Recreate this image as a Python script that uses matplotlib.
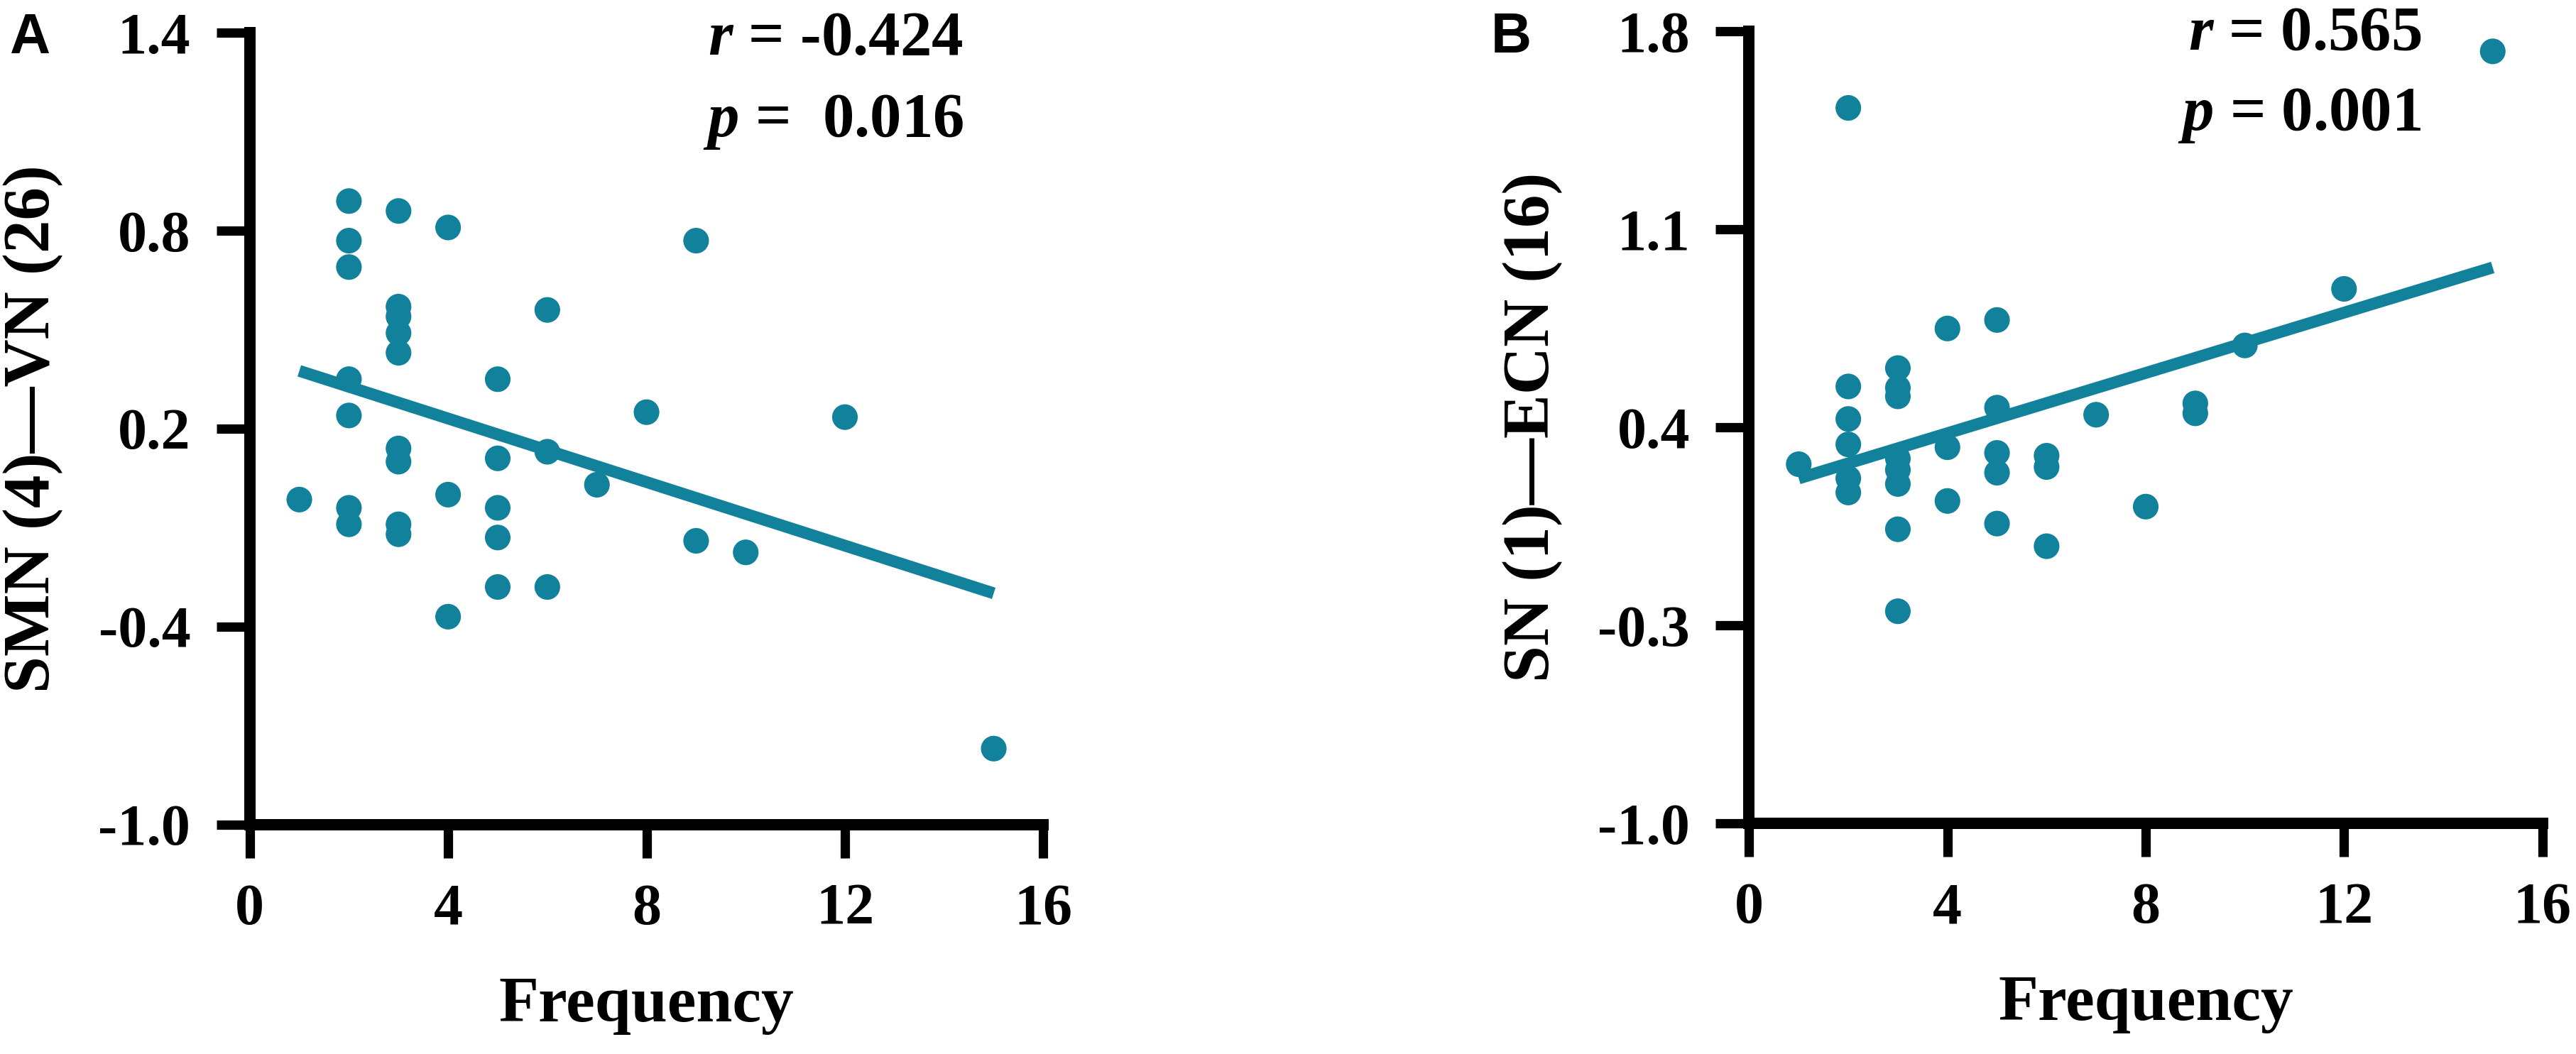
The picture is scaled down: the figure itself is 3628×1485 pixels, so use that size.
import numpy as np
import matplotlib
matplotlib.use('Agg')
import matplotlib.pyplot as plt

plt.rcParams['font.family'] = ['Liberation Serif', 'DejaVu Serif']
plt.rcParams['font.weight'] = 'bold'
plt.rcParams['axes.unicode_minus'] = False
plt.rcParams['mathtext.fontset'] = 'custom'
plt.rcParams['mathtext.it'] = 'Liberation Serif:italic:bold'
plt.rcParams['mathtext.rm'] = 'Liberation Serif:bold'

# panel A: SMN (4)—VN (26)
freq_a = [1,
          2, 2, 2, 2, 2, 2, 2,
          3, 3, 3, 3, 3, 3, 3, 3, 3,
          4, 4, 4,
          5, 5, 5, 5, 5,
          6, 6, 6,
          7, 8, 9, 9, 10, 12, 15]
conn_a = [-0.015,
          0.89, 0.77, 0.69, 0.35, 0.24, -0.04, -0.09,
          0.86, 0.57, 0.54, 0.49, 0.43, 0.14, 0.10, -0.09, -0.12,
          0.81, 0.00, -0.37,
          0.35, 0.11, -0.04, -0.13, -0.28,
          0.56, 0.13, -0.28,
          0.03, 0.25, 0.77, -0.14, -0.175, 0.235, -0.77]

# panel B: SN (1)—ECN (16)
freq_b = [1,
          2, 2, 2, 2, 2, 2,
          3, 3, 3, 3, 3, 3, 3, 3,
          4, 4, 4,
          5, 5, 5, 5, 5,
          6, 6, 6,
          7, 8, 9, 9, 10, 12, 15]
conn_b = [0.27,
          1.53, 0.545, 0.43, 0.34, 0.22, 0.17,
          0.61, 0.54, 0.51, 0.29, 0.25, 0.20, 0.04, -0.25,
          0.75, 0.33, 0.14,
          0.78, 0.47, 0.31, 0.24, 0.06,
          0.30, 0.26, -0.02,
          0.445, 0.12, 0.485, 0.45, 0.69, 0.89, 1.73]

xticks = [0, 4, 8, 12, 16]
yticks_a = [-1.0, -0.4, 0.2, 0.8, 1.4]
yticks_b = [-1.0, -0.3, 0.4, 1.1, 1.8]

teal = '#12819B'

fig = plt.figure(figsize=(36.28, 14.85), dpi=100)
ax_a = fig.add_axes([0.09694, 0.21778, 0.30808, 0.75104])
ax_b = fig.add_axes([0.67902, 0.21886, 0.30790, 0.75120])


def draw_panel(ax, x, y, yticks, ylabel, r_txt, p_txt, tx, ry, py):
    x = np.asarray(x, dtype=float)
    y = np.asarray(y, dtype=float)
    ax.scatter(x, y, s=26 ** 2, color=teal, edgecolors='none', zorder=3, clip_on=False)
    # 线性拟合
    coef = np.polyfit(x, y, 1)
    xs = np.array([x.min(), x.max()])
    ax.plot(xs, np.polyval(coef, xs), color=teal, lw=12, solid_capstyle='butt', zorder=4)

    ax.set_xlim(0, 16)
    ax.set_ylim(yticks[0], yticks[-1])
    ax.set_xticks(xticks)
    ax.set_yticks(yticks)
    ax.set_yticklabels(['%.1f' % v for v in yticks])
    for side in ['top', 'right']:
        ax.spines[side].set_visible(False)
    for side in ['left', 'bottom']:
        ax.spines[side].set_linewidth(11.5)
    ax.tick_params(width=9.5, length=34, pad=26, labelsize=59, direction='out')

    ax.set_xlabel('Frequency', fontsize=66, fontweight='bold')
    ax.xaxis.set_label_coords(0.5, -0.192)
    ax.set_ylabel(ylabel, fontsize=67, fontweight='bold')
    ax.yaxis.set_label_coords(-0.235, 0.5)

    ax.text(tx, ry, r_txt, ha='right', va='baseline', fontsize=64)
    ax.text(tx, py, p_txt, ha='right', va='baseline', fontsize=64)


draw_panel(ax_a, freq_a, conn_a, yticks_a, 'SMN (4)—VN (26)',
           r'$r$ = -0.424', r'$p$ =  0.016', 14.39, 1.334, 1.087)
draw_panel(ax_b, freq_b, conn_b, yticks_b, 'SN (1)—ECN (16)',
           r'$r$ = 0.565', r'$p$ = 0.001', 13.56, 1.736, 1.452)

fig.text(13 / 3628, 1 - 75 / 1485, 'A', fontsize=57, fontweight='bold',
         family=['Liberation Sans'], ha='left', va='baseline')
fig.text(2100 / 3628, 1 - 74 / 1485, 'B', fontsize=57, fontweight='bold',
         family=['Liberation Sans'], ha='left', va='baseline')

fig.savefig('out.png', dpi=100)
